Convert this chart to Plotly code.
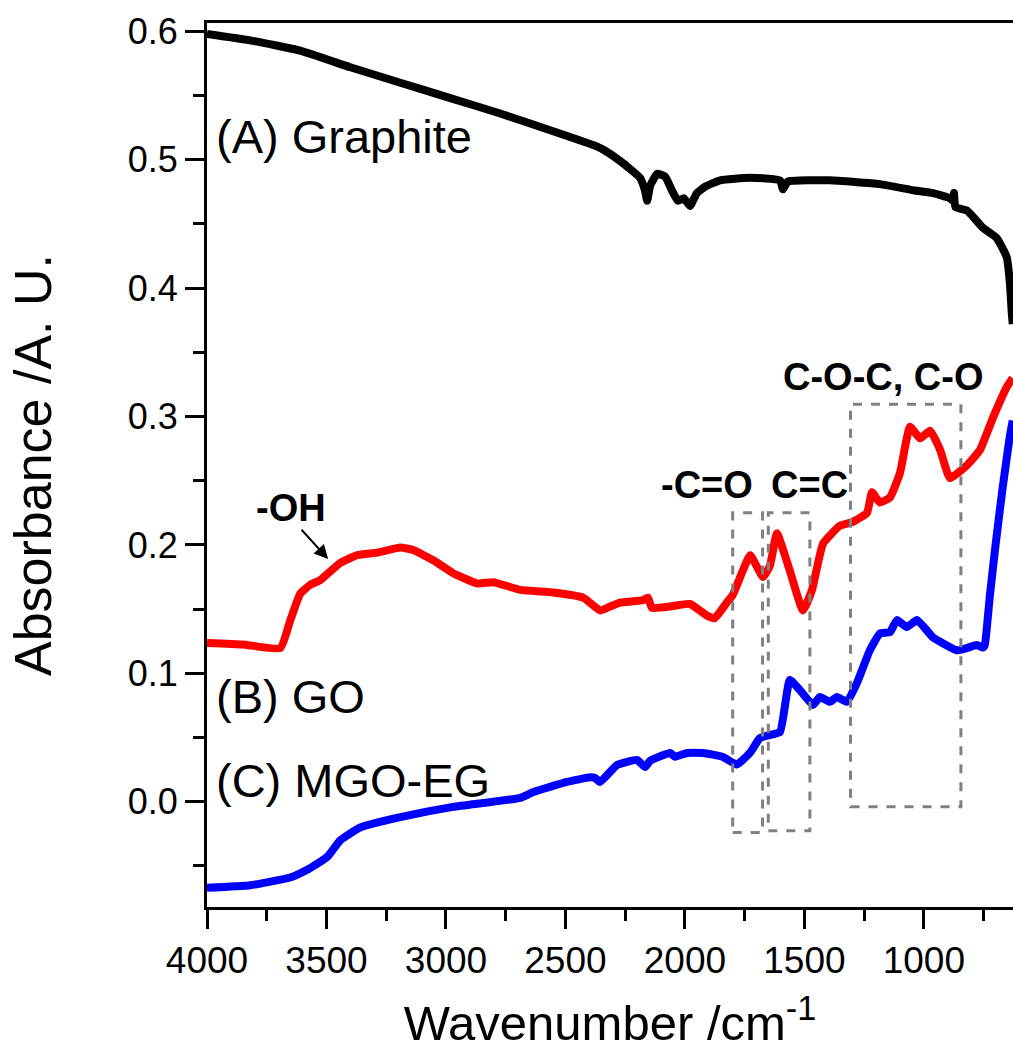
import plotly.graph_objects as go

# FTIR spectra: wavenumber (cm^-1) and absorbance (A. U.)
graphite_wn = [4000, 3819, 3610, 3400, 3191, 2982, 2773, 2564, 2438, 2376, 2334, 2271,
               2188, 2167, 2158, 2145, 2116, 2083, 2054, 2029, 2004, 1979, 1950, 1916,
               1853, 1728, 1602, 1590, 1569, 1394, 1184, 1038, 962, 890, 878, 874, 868,
               820, 753, 695, 653, 640, 632, 628]
graphite_abs = [0.598, 0.593, 0.585, 0.572, 0.560, 0.548, 0.536, 0.523, 0.515, 0.511, 0.507, 0.499,
                0.486, 0.476, 0.468, 0.480, 0.489, 0.487, 0.476, 0.468, 0.470, 0.464, 0.474, 0.479,
                0.484, 0.486, 0.484, 0.477, 0.483, 0.484, 0.481, 0.476, 0.474, 0.470, 0.468, 0.474, 0.463,
                0.4605, 0.447, 0.439, 0.424, 0.404, 0.380, 0.372]

go_wn = [4000, 3850, 3693, 3652, 3610, 3568, 3526, 3442, 3371, 3288, 3191, 3137, 3053, 2970,
         2869, 2802, 2689, 2551, 2426, 2355, 2313, 2271, 2175, 2155, 2138, 2062, 1979, 1908,
         1875, 1825, 1800, 1762, 1727, 1673, 1644, 1615, 1561, 1506, 1468, 1422, 1351, 1297,
         1238, 1217, 1184, 1142, 1100, 1058, 1016, 974, 932, 891, 820, 765, 711, 653, 628]
go_abs = [0.1237, 0.1225, 0.1197, 0.141, 0.162, 0.169, 0.1726, 0.186, 0.192, 0.194, 0.198, 0.196,
          0.188, 0.178, 0.170, 0.171, 0.165, 0.163, 0.159, 0.149, 0.152, 0.155, 0.157, 0.159, 0.151,
          0.152, 0.154, 0.145, 0.143, 0.155, 0.161, 0.178, 0.192, 0.175, 0.184, 0.209, 0.180, 0.149,
          0.165, 0.201, 0.215, 0.218, 0.225, 0.241, 0.233, 0.237, 0.256, 0.292, 0.283, 0.289, 0.274,
          0.252, 0.262, 0.274, 0.299, 0.323, 0.330]

mgo_wn = [4000, 3819, 3652, 3581, 3497, 3442, 3358, 3191, 2970, 2689, 2634, 2493, 2397, 2376,
          2355, 2284, 2200, 2167, 2145, 2062, 2041, 1991, 1925, 1841, 1783, 1728, 1686, 1644,
          1602, 1561, 1519, 1464, 1435, 1393, 1364, 1322, 1280, 1226, 1184, 1142, 1113, 1071,
          1029, 962, 862, 820, 778, 753, 745, 724, 700, 670, 640, 628]
mgo_abs = [-0.067, -0.065, -0.059, -0.053, -0.043, -0.030, -0.020, -0.012, -0.004, 0.003, 0.0076,
           0.0154, 0.019, 0.0185, 0.0154, 0.0286, 0.0325, 0.027, 0.032, 0.038, 0.035, 0.038, 0.038,
           0.0349, 0.029, 0.038, 0.0496, 0.052, 0.0543, 0.0948, 0.087, 0.0754, 0.0816, 0.0778, 0.0816,
           0.0778, 0.0925, 0.118, 0.131, 0.132, 0.1415, 0.136, 0.1415, 0.128, 0.118, 0.1197, 0.122,
           0.120, 0.122, 0.16, 0.20, 0.245, 0.285, 0.297]

# Dashed boxes marking the functional-group bands: (x0, x1, y0, y1)
band_boxes = [(1800, 1675, -0.024, 0.225),
              (1651, 1477, -0.0227, 0.225),
              (1307, 845, -0.004, 0.3096)]

FONT = "Arial, Liberation Sans, sans-serif"

fig = go.Figure()
for wn, ab, col in [(graphite_wn, graphite_abs, "black"),
                    (go_wn, go_abs, "#ff0000"),
                    (mgo_wn, mgo_abs, "#0000ff")]:
    fig.add_trace(go.Scatter(x=wn, y=ab, mode="lines",
                             line=dict(color=col, width=8, shape="spline", smoothing=0.4),
                             showlegend=False))

for x0, x1, y0, y1 in band_boxes:
    fig.add_shape(type="rect", xref="x", yref="y", x0=x0, x1=x1, y0=y0, y1=y1,
                  line=dict(color="#808080", width=3, dash="dash"))

# Sample labels
for txt, y in [("(A) Graphite", 0.518), ("(B) GO", 0.0816), ("(C) MGO-EG", 0.0162)]:
    fig.add_annotation(x=3970, y=y, text=txt, showarrow=False, xanchor="left", yanchor="middle",
                       font=dict(family=FONT, size=47, color="black"))

# Band labels
for txt, x, y in [("-C=O", 1908, 0.2465), ("C=C", 1477, 0.2465), ("C-O-C, C-O", 1167, 0.331)]:
    fig.add_annotation(x=x, y=y, text=f"<b>{txt}</b>", showarrow=False,
                       font=dict(family=FONT, size=38, color="black"))

fig.add_annotation(x=3647, y=0.229, text="<b>-OH</b>", showarrow=False,
                   font=dict(family=FONT, size=38, color="black"))
fig.add_annotation(x=3493, y=0.189, ax=3610, ay=0.213, axref="x", ayref="y",
                   text="", showarrow=True, arrowhead=2, arrowsize=1.4, arrowwidth=2,
                   arrowcolor="black")

fig.update_xaxes(range=[4000, 627], autorange=False,
                 tickvals=[4000, 3500, 3000, 2500, 2000, 1500, 1000],
                 ticks="outside", ticklen=19, tickwidth=3, tickcolor="black",
                 minor=dict(ticks="outside", ticklen=11, tickwidth=3, tickcolor="black", dtick=250),
                 showline=True, linewidth=3, linecolor="black", mirror=True,
                 showgrid=False, zeroline=False,
                 tickfont=dict(family=FONT, size=37, color="black"),
                 title=dict(text="Wavenumber /cm<sup>-1</sup>", standoff=26,
                            font=dict(family=FONT, size=49, color="black")))
fig.update_yaxes(range=[-0.082, 0.6065], autorange=False,
                 tickvals=[0.0, 0.1, 0.2, 0.3, 0.4, 0.5, 0.6], tickformat=".1f",
                 ticks="outside", ticklen=19, tickwidth=3, tickcolor="black",
                 minor=dict(ticks="outside", ticklen=11, tickwidth=3, tickcolor="black",
                            tickvals=[-0.05, 0.05, 0.15, 0.25, 0.35, 0.45, 0.55]),
                 showline=True, linewidth=3, linecolor="black", mirror=False,
                 showgrid=False, zeroline=False,
                 tickfont=dict(family=FONT, size=36, color="black"),
                 title=dict(text="Absorbance /A. U.", standoff=60,
                            font=dict(family=FONT, size=52, color="black")))

fig.update_layout(width=1013, height=1057, margin=dict(l=207, r=0, t=23, b=150),
                  plot_bgcolor="white", paper_bgcolor="white")

fig.write_html("out.html")
